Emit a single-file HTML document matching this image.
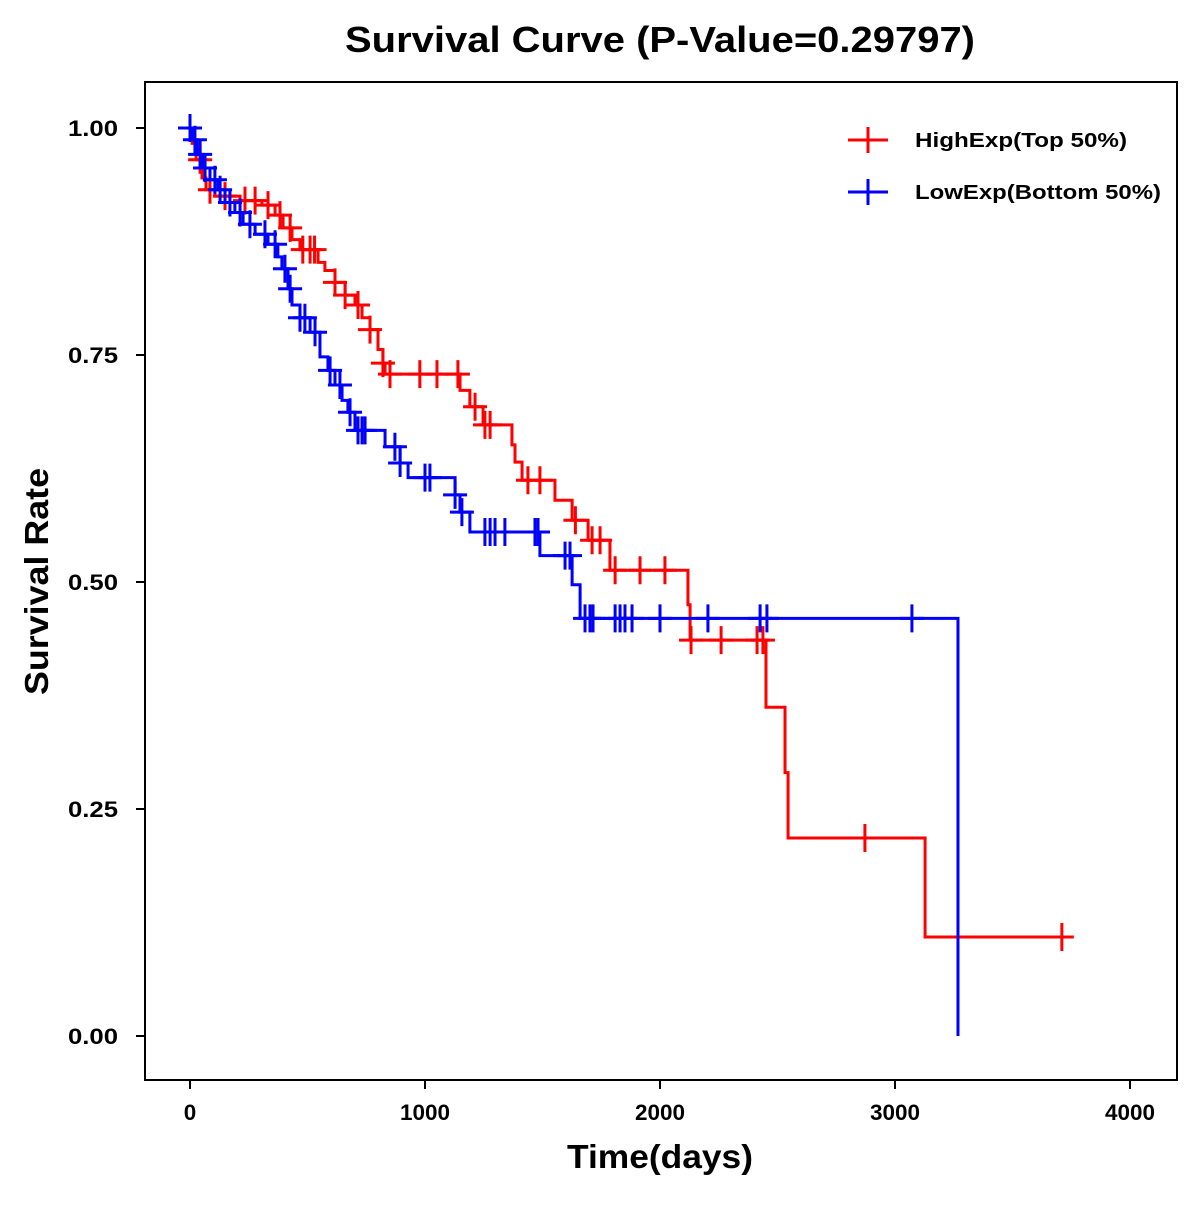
<!DOCTYPE html>
<html><head><meta charset="utf-8"><style>
html,body{margin:0;padding:0;background:#fff;}
svg text{font-family:"Liberation Sans",Arial,sans-serif;font-weight:bold;}
</style></head><body>
<svg id="chart" width="1200" height="1200" viewBox="0 0 1200 1200" xmlns="http://www.w3.org/2000/svg">
<rect width="1200" height="1200" fill="#fff"/>
<text x="345" y="52" font-size="36" textLength="630" lengthAdjust="spacingAndGlyphs">Survival Curve (P-Value=0.29797)</text>
<rect x="145" y="82" width="1032" height="998" fill="none" stroke="#000" stroke-width="2"/>
<g id="axes"></g>
<g id="series"></g>
<text x="567" y="1168" font-size="33" textLength="186" lengthAdjust="spacingAndGlyphs">Time(days)</text>
<text transform="translate(48,695) rotate(-90)" font-size="33" textLength="227" lengthAdjust="spacingAndGlyphs">Survival Rate</text>
<g>
<g>
<line x1="848" y1="140" x2="888" y2="140" stroke="#f00" stroke-width="3"/><line x1="868" y1="127" x2="868" y2="153" stroke="#f00" stroke-width="3"/>
<text x="915" y="147" font-size="20" textLength="212" lengthAdjust="spacingAndGlyphs">HighExp(Top 50%)</text></g>
<g>
<line x1="848" y1="192" x2="888" y2="192" stroke="#00f" stroke-width="3"/><line x1="868" y1="179" x2="868" y2="205" stroke="#00f" stroke-width="3"/>
<text x="915" y="199" font-size="20" textLength="246" lengthAdjust="spacingAndGlyphs">LowExp(Bottom 50%)</text></g>
</g>
</svg>
<script>
const xTicks=[0,1000,2000,3000,4000];
const yTicks=[0,0.25,0.5,0.75,1.0];
const yTickLabels=["0.00","0.25","0.50","0.75","1.00"];
const highTimes=[9,26,51,68,106,213,306,362,396,434,468,545,574,617,660,702,732,766,800,821,830,1149,1191,1247,1370,1383,1413,1553,1626,1694,1787,2119,2128,2451,2532,2545,3128];
const highSurv=[0.983,0.965,0.945,0.932,0.925,0.92,0.915,0.904,0.89,0.877,0.866,0.852,0.843,0.83,0.816,0.805,0.791,0.778,0.756,0.741,0.729,0.711,0.693,0.673,0.651,0.632,0.612,0.59,0.568,0.546,0.513,0.475,0.436,0.362,0.29,0.218,0.109];
const highEnd=3723;
const highCensor=[43,85,149,234,277,332,383,426,480,511,530,617,660,715,766,821,851,978,1051,1140,1213,1255,1277,1438,1489,1640,1711,1745,1809,1915,2021,2132,2260,2413,2438,2872,3710];
const lowTimes=[13,30,55,85,119,149,191,226,277,332,374,391,417,434,468,511,553,587,617,647,672,702,830,894,928,1128,1149,1191,1489,1626,1660,3268];
const lowSurv=[0.987,0.971,0.956,0.943,0.932,0.918,0.907,0.894,0.883,0.872,0.858,0.845,0.823,0.805,0.791,0.775,0.748,0.733,0.717,0.7,0.687,0.667,0.649,0.631,0.615,0.596,0.577,0.555,0.529,0.497,0.46,0];
const lowEnd=3268;
const lowCensor=[0,21,43,64,106,128,170,213,255,319,362,404,426,468,489,532,596,638,681,715,732,745,872,894,1000,1021,1128,1157,1255,1277,1298,1340,1468,1481,1596,1617,1681,1702,1715,1809,1830,1851,1881,2000,2204,2426,2455,3072];

const xs=t=>190+t*0.235;
const ys=v=>1036-v*908;
const NS="http://www.w3.org/2000/svg";
function mk(tag,attrs,parent){const e=document.createElementNS(NS,tag);for(const k in attrs)e.setAttribute(k,attrs[k]);parent.appendChild(e);return e;}
const axes=document.getElementById('axes');
xTicks.forEach(t=>{
  const l=mk('line',{x1:xs(t),y1:1080,x2:xs(t),y2:1089,stroke:'#000','stroke-width':2},axes);
  
  
  const s=String(t);
  const w=s.length*12.5;
  const tx=mk('text',{x:xs(t)-w/2,y:1120,'font-size':22,textLength:w,lengthAdjust:'spacingAndGlyphs'},axes);
  tx.textContent=s;
  
  
});
yTicks.forEach((v,i)=>{
  const l=mk('line',{x1:136,y1:ys(v),x2:145,y2:ys(v),stroke:'#000','stroke-width':2},axes);
  
  
  const tx=mk('text',{x:68,y:ys(v)+8,'font-size':22,textLength:50,lengthAdjust:'spacingAndGlyphs'},axes);
  tx.textContent=yTickLabels[i];
  
  
});
function survAt(times,surv,t){let s=1;for(let i=0;i<times.length;i++){if(times[i]<=t)s=surv[i];else break;}return s;}
const series=document.getElementById('series');
function draw(times,surv,end,cens,color,name){
  const g=mk('g',{},series);
  
  
  let d='M'+xs(0)+','+ys(1);
  for(let i=0;i<times.length;i++){d+=' H'+xs(times[i])+' V'+ys(surv[i]);}
  d+=' H'+xs(end);
  const p=mk('path',{d:d,fill:'none',stroke:color,'stroke-width':3},g);
  
  
  cens.forEach(t=>{
    const v=survAt(times,surv,t);const cx=xs(t),cy=ys(v);
    const c=mk('path',{d:`M${cx-12},${cy} H${cx+12} M${cx},${cy-14} V${cy+14}`,stroke:color,'stroke-width':3,fill:'none'},g);
    
    
  });
}
draw(highTimes,highSurv,highEnd,highCensor,'#f00','high-exp');
draw(lowTimes,lowSurv,lowEnd,lowCensor,'#00f','low-exp');
</script>
</body></html>
